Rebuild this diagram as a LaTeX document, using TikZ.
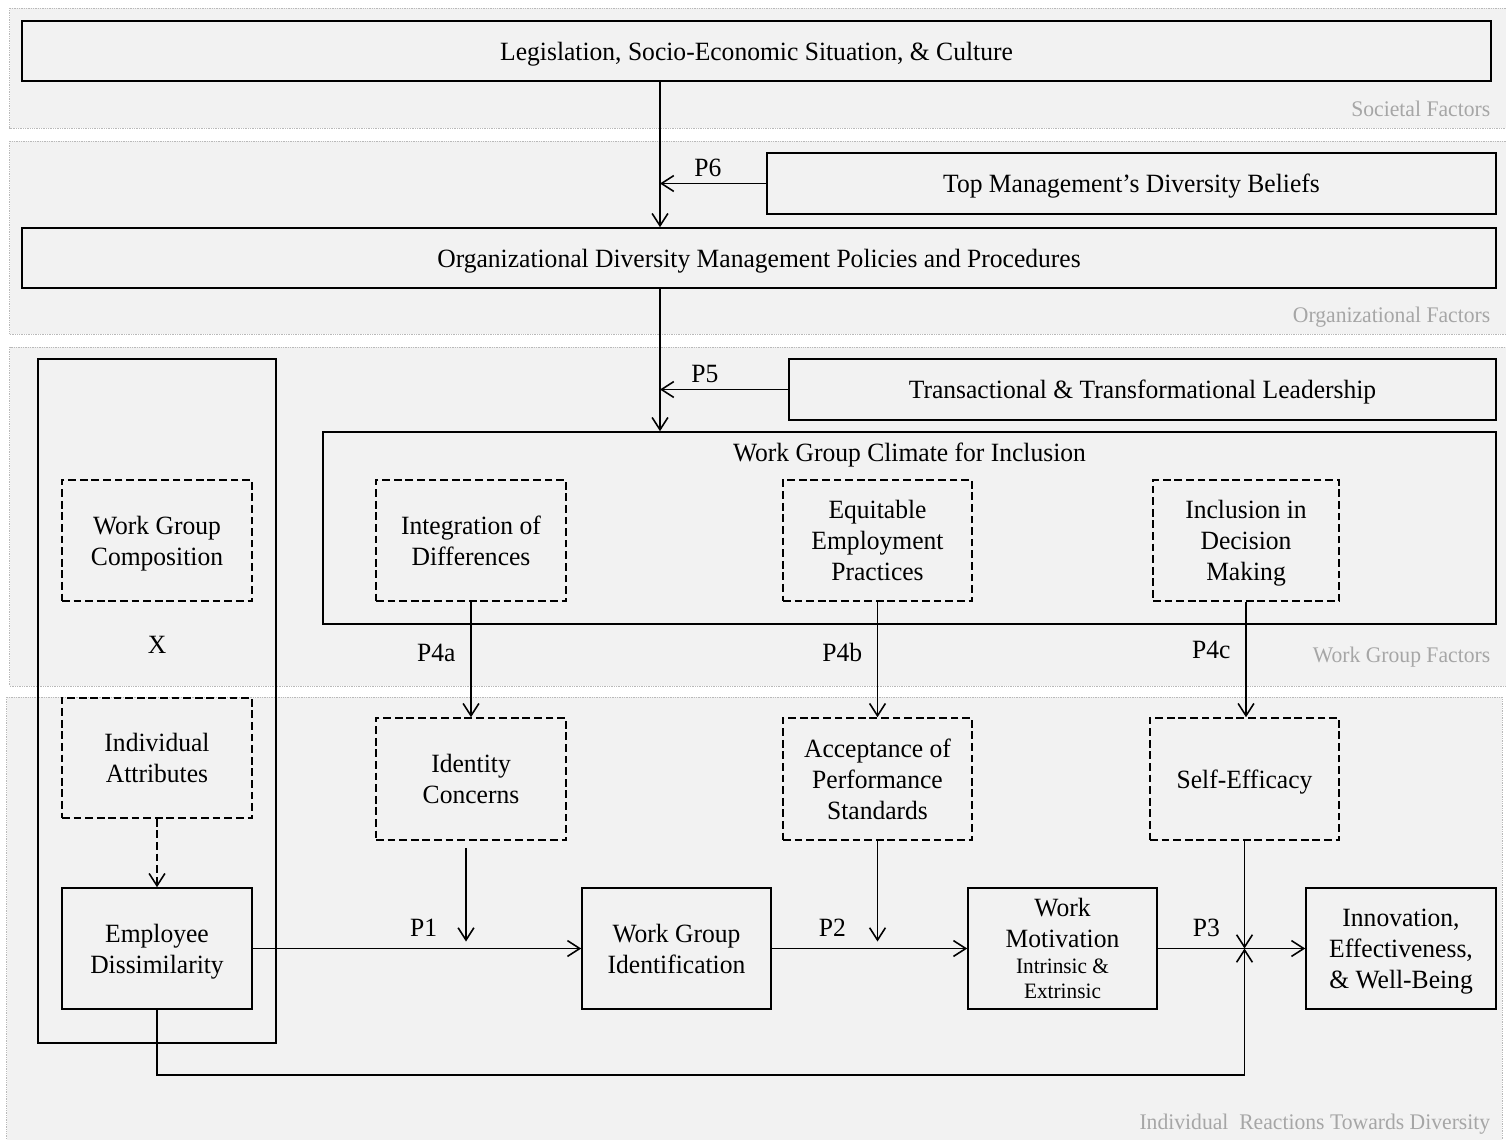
\documentclass[tikz,border=0pt]{standalone}
\usepackage{fontspec}
\setmainfont{Liberation Serif}[FakeStretch=0.97]
\usetikzlibrary{arrows.meta}
\definecolor{bandfill}{HTML}{F2F2F2}
\tikzset{
  box/.style={draw, line width=0.9pt, align=center, inner sep=0pt, font=\fontsize{15}{17.6}\selectfont,
    text depth=0pt, execute at begin node={\rule{0pt}{10.8pt}}},
  dbox/.style={box, dash pattern=on 4.4pt off 2.2pt},
  wh/.style 2 args={minimum width=#1*0.02cm, minimum height=#2*0.02cm},
  band/.style={fill=bandfill, draw=gray!55, line width=0.5pt, dash pattern=on 0.5pt off 0.5pt},
  bandlabel/.style={text=gray!70, font=\fontsize{12.7}{15}\selectfont, inner sep=0pt, anchor=base east},
  plabel/.style={font=\fontsize{15}{17.6}\selectfont},
}

\begin{document}
\begin{tikzpicture}[x=0.02cm, y=-0.02cm, line width=0.9pt, >={Straight Barb[length=7pt,width=9pt]}]
\clip (0,0) rectangle (1506,1139);
%%%%% Bands %%%%%
\foreach \lft/\rgt/\top/\bot/\base/\lab [count=\k] in {9.7/1512/8/128/116/Societal Factors, 9.7/1512/141/334/322/Organizational Factors, 9.7/1512/347/686/662/Work Group Factors, 6.8/1502/697/1150/1129/Individual~~Reactions Towards Diversity}{
\draw[band] (\lft,\top) rectangle (\rgt,\bot);
\node[bandlabel] (bandlab\k) at (1491,\base) {\lab};
}
%%%%% Societal and organizational level %%%%%
\node[box, wh={1469}{60}] (legis) at (756.5,51) {Legislation, Socio-Economic Situation, \& Culture};
\node[box, wh={729}{61}] (topmgmt) at (1131.5,183.5) {Top Management’s Diversity Beliefs};
\node[box, wh={1474}{60}] (orgdm) at (759,258) {Organizational Diversity Management Policies and Procedures};
%%%%% Work group level %%%%%
\node[box, wh={707}{61}] (leader) at (1142.5,389.5) {Transactional \& Transformational Leadership};
\node[box, wh={1173}{192}] (climate) at (909.5,528) {};
\node[plabel, below=3pt] (climtitle) at (climate.north) {Work Group Climate for Inclusion};
\node[dbox, wh={190}{121}] (integ) at (471,540.5) {Integration of\\Differences};
\node[dbox, wh={189}{121}] (equit) at (877.5,540.5) {Equitable\\Employment\\Practices};
\node[dbox, wh={186}{121}] (incl) at (1246,540.5) {Inclusion in\\Decision\\Making};
%%%%% Left column %%%%%
\node[box, wh={238}{684}] (wgframe) at (157,701) {};
\node[dbox, wh={190}{121}] (comp) at (157,540.5) {Work Group\\Composition};
\node[plabel] (times) at (157,645) {X};
\node[dbox, wh={190}{120}] (attr) at (157,758) {Individual\\Attributes};
\node[box, wh={190}{121}] (empl) at (157,948.5) {Employee\\Dissimilarity};
%%%%% Individual level %%%%%
\node[dbox, wh={190}{122}] (ident) at (471,779) {Identity\\Concerns};
\node[dbox, wh={189}{122}] (accept) at (877.5,779) {Acceptance of\\Performance\\Standards};
\node[dbox, wh={189}{122}] (selfeff) at (1244.5,779) {Self-Efficacy};
\node[box, wh={189}{121}] (wgid) at (676.5,948.5) {Work Group\\Identification};
\node[box, wh={189}{121}] (motiv) at (1062.5,948.5) {Work\\Motivation\\[-3pt]{\fontsize{12.5}{14}\selectfont Intrinsic \&}\\[-3pt]{\fontsize{12.5}{14}\selectfont Extrinsic}};
\node[box, wh={190}{121}] (innov) at (1401,948.5) {Innovation,\\Effectiveness,\\\& Well-Being};
%%%%% Connectors %%%%%
\coordinate (spine) at (660,0);
\coordinate (low) at (0,1075);
\draw[->] (legis.south -| spine) -- (orgdm.north -| spine);
\draw[->] (topmgmt.west) -- (topmgmt.west -| spine) node[plabel, above, pos=0.55] (p6) {P6};
\draw[->] (orgdm.south -| spine) -- (climate.north -| spine);
\draw[->] (leader.west) -- (leader.west -| spine) node[plabel, above, pos=0.65] (p5) {P5};
\draw[->] (integ.south) -- (ident.north) node[plabel, left=5pt, pos=0.44] (p4a) {P4a};
\draw[->] (equit.south) -- (accept.north) node[plabel, left=5pt, pos=0.44] (p4b) {P4b};
\draw[->] (incl.south) -- (incl.south |- selfeff.north) node[plabel, left=5pt, pos=0.42] (p4c) {P4c};
\draw[->, dash pattern=on 4.4pt off 2.2pt] (attr.south) -- (empl.north);
\draw[->, shorten <=0.14cm, shorten >=0.14cm] ([xshift=-0.1cm]ident.south) -- ([xshift=-0.1cm]ident.south |- empl.east);
\draw[->, shorten >=0.14cm] (accept.south) -- (accept.south |- wgid.east);
\draw[->] (selfeff.south) -- (selfeff.south |- motiv.east) coordinate (merge);
\draw[->] (empl.east) -- (wgid.west) node[plabel, above=3pt, pos=0.52] (p1) {P1};
\draw[->] (wgid.east) -- (motiv.west) node[plabel, above=3pt, pos=0.31] (p2) {P2};
\draw[->] (motiv.east) -- (innov.west) node[plabel, above=3pt, pos=0.33] (p3) {P3};
\draw[->] (empl.south) -- (empl.south |- low) -| (merge);
\end{tikzpicture}
\end{document}
